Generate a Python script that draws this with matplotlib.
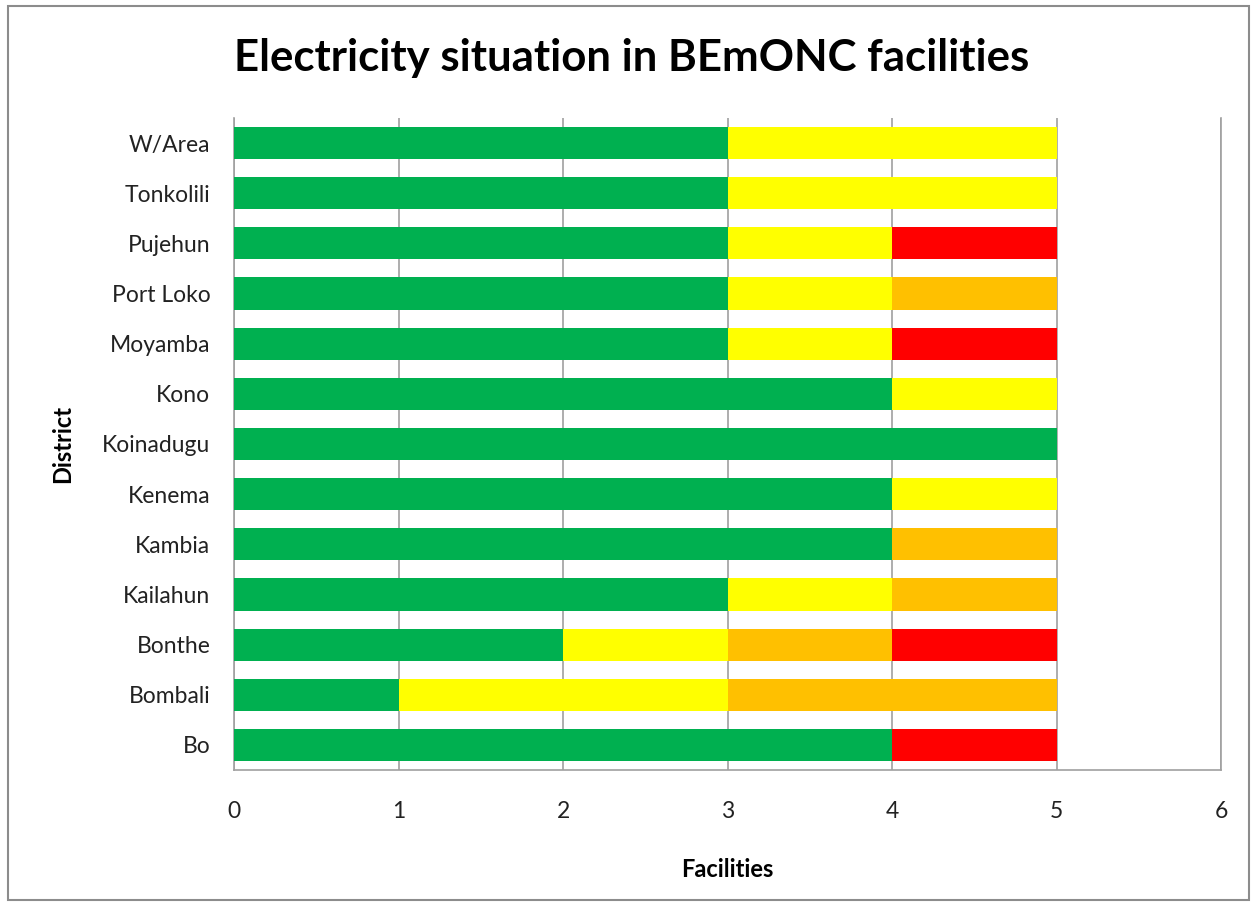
import matplotlib
matplotlib.use("Agg")
import matplotlib.pyplot as plt
import numpy as np
from matplotlib.patches import Rectangle

districts = ["Bo", "Bombali", "Bonthe", "Kailahun", "Kambia", "Kenema", "Koinadugu",
             "Kono", "Moyamba", "Port Loko", "Pujehun", "Tonkolili", "W/Area"]
green  = [4, 1, 2, 3, 4, 4, 5, 4, 3, 3, 3, 3, 3]
yellow = [0, 2, 1, 1, 0, 1, 0, 1, 1, 1, 1, 2, 2]
orange = [0, 2, 1, 1, 1, 0, 0, 0, 0, 1, 0, 0, 0]
red    = [1, 0, 1, 0, 0, 0, 0, 0, 1, 0, 1, 0, 0]
xticks = [0, 1, 2, 3, 4, 5, 6]

plt.rcParams['font.family'] = ['Lato', 'DejaVu Sans']

fig = plt.figure(figsize=(12.57, 9.07), dpi=100)
fig.patches.append(Rectangle((8/1257, 1-900/907), (1249-8)/1257, (900-6)/907,
                             transform=fig.transFigure, fill=False,
                             edgecolor='#8c8c8c', linewidth=1.5))
ax = fig.add_axes([234/1257, 1-770/907, (1221-234)/1257, (770-118)/907])

y = np.arange(len(districts))
h = 0.64
left = np.zeros(len(districts))
for vals, col in [(green, '#00B050'), (yellow, '#FFFF00'), (orange, '#FFC000'), (red, '#FF0000')]:
    v = np.array(vals, dtype=float)
    ax.barh(y, v, left=left, height=h, color=col, edgecolor='none', zorder=3)
    left += v

ax.set_xlim(0, 6)
ax.set_ylim(-0.5, len(districts) - 0.5)
ax.set_xticks(xticks)
ax.set_xticklabels([str(t) for t in xticks], fontsize=16.5, color='#222222')
ax.set_yticks(y)
ax.set_yticklabels(districts, fontsize=16.5, color='#222222')
ax.tick_params(axis='both', length=0)
ax.tick_params(axis='x', pad=22)
ax.tick_params(axis='y', pad=17)
ax.grid(axis='x', color='#a0a0a0', linewidth=1.2, zorder=0)
ax.set_axisbelow(True)
for s in ['left', 'right', 'bottom']:
    ax.spines[s].set_color('#a0a0a0')
    ax.spines[s].set_linewidth(1.2)
ax.spines['top'].set_visible(False)

ax.set_xlabel("Facilities", fontsize=17, fontweight='bold', labelpad=26)
ax.set_ylabel("District", fontsize=17, fontweight='bold', labelpad=20)
fig.text(632/1257, 1-58/907, "Electricity situation in BEmONC facilities",
         fontsize=31.5, fontweight='bold', ha='center', va='center')

fig.savefig("out.png", dpi=100)
